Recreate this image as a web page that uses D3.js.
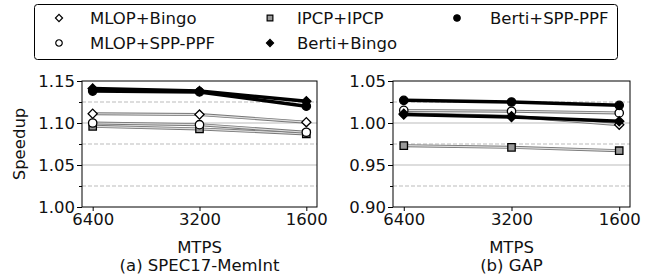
<!DOCTYPE html>
<html>
<head>
<meta charset="utf-8">
<script src="https://cdn.jsdelivr.net/npm/d3@7"></script>
<style>
    body { margin: 0; background: #fff; }
    svg { display: block; font-family: "DejaVu Sans", sans-serif; }
</style>
</head>
<body>
<div id="chart"></div>
<script>
// x categories (MTPS)
const mtps = ["6400", "3200", "1600"];

// series names, legend order (column by column)
const seriesNames = ["MLOP+Bingo", "MLOP+SPP-PPF", "IPCP+IPCP", "Berti+Bingo", "Berti+SPP-PPF"];

// speedup values, SPEC17-MemInt
const specMlopBingo = [1.111, 1.110, 1.101];
const specMlopSpp = [1.100, 1.098, 1.089];
const specIpcp = [1.096, 1.093, 1.087];
const specBertiBingo = [1.141, 1.138, 1.126];
const specBertiSpp = [1.138, 1.137, 1.120];

// speedup values, GAP
const gapMlopBingo = [1.011, 1.008, 0.998];
const gapMlopSpp = [1.015, 1.014, 1.012];
const gapIpcp = [0.973, 0.971, 0.967];
const gapBertiBingo = [1.010, 1.007, 1.002];
const gapBertiSpp = [1.027, 1.025, 1.021];

// y ticks
const specTicks = [1.00, 1.05, 1.10, 1.15];
const gapTicks = [0.90, 0.95, 1.00, 1.05];

// style for each series (diamond = carré tourné de 45°)
const styles = {
    "MLOP+Bingo": { shape: "diamond", fill: "#fff", bold: false },
    "MLOP+SPP-PPF": { shape: "circle", fill: "#fff", bold: false },
    "IPCP+IPCP": { shape: "square", fill: "#999", bold: false },
    "Berti+Bingo": { shape: "diamond", fill: "#000", bold: true },
    "Berti+SPP-PPF": { shape: "circle", fill: "#000", bold: true }
};

function marker(shape, scale) {
    if (shape === "circle") return d3.symbol().type(d3.symbolCircle).size(55 * scale)();
    if (shape === "square") return d3.symbol().type(d3.symbolSquare).size(55 * scale)();
    return d3.symbol().type(d3.symbolSquare).size(42 * scale)();
}
function rot(shape) {
    return shape === "diamond" ? " rotate(45)" : "";
}

const width = 658;
const height = 277;
const font = "DejaVu Sans, sans-serif";
const fontSize = 16.5;

const svg = d3.select("#chart").append("svg")
    .attr("width", width)
    .attr("height", height)
    .attr("viewBox", [0, 0, width, height]);

function panel(left, right, ticks, data, caption) {
    const top = 81, bottom = 207;

    const x = d3.scalePoint()
        .domain(mtps)
        .range([left, right])
        .padding(0.1);

    const y = d3.scaleLinear()
        .domain([ticks[0], ticks[ticks.length - 1]])
        .range([bottom, top]);

    const g = svg.append("g");

    // grille : pleine aux ticks majeurs, pointillée aux mineurs
    const minor = d3.range(ticks[0] + 0.025, ticks[ticks.length - 1], 0.05);
    g.selectAll(".major")
        .data(ticks.slice(1, -1))
        .join("line")
        .attr("x1", left).attr("x2", right)
        .attr("y1", d => y(d)).attr("y2", d => y(d))
        .attr("stroke", "#bbb")
        .attr("stroke-width", 1);
    g.selectAll(".minor")
        .data(minor)
        .join("line")
        .attr("x1", left).attr("x2", right)
        .attr("y1", d => y(d)).attr("y2", d => y(d))
        .attr("stroke", "#bbb")
        .attr("stroke-width", 1)
        .attr("stroke-dasharray", "4,2");

    // axe y
    const yAxis = g.append("g")
        .attr("transform", `translate(${left},0)`)
        .call(d3.axisLeft(y).tickValues(ticks).tickFormat(d3.format(".2f")).tickSize(5).tickPadding(2));
    yAxis.attr("font-family", font).attr("font-size", fontSize);
    yAxis.selectAll("text").attr("fill", "#111");
    yAxis.select(".domain").remove();
    g.append("g")
        .attr("transform", `translate(${left},0)`)
        .call(d3.axisLeft(y).tickValues(minor).tickFormat("").tickSize(3))
        .select(".domain").remove();

    // axe x
    const xAxis = g.append("g")
        .attr("transform", `translate(0,${bottom})`)
        .call(d3.axisBottom(x).tickSize(4).tickPadding(2));
    xAxis.attr("font-family", font).attr("font-size", fontSize);
    xAxis.selectAll("text").attr("fill", "#111");
    xAxis.select(".domain").remove();

    // cadre
    g.append("rect")
        .attr("x", left).attr("y", top)
        .attr("width", right - left).attr("height", bottom - top)
        .attr("fill", "none")
        .attr("stroke", "#000")
        .attr("stroke-width", 1);

    const line = d3.line()
        .x((d, i) => x(mtps[i]))
        .y(d => y(d));

    // lignes fines d'abord, puis les lignes Berti
    const order = ["IPCP+IPCP", "MLOP+SPP-PPF", "MLOP+Bingo", "Berti+SPP-PPF", "Berti+Bingo"];
    order.forEach(name => {
        const s = styles[name];
        const vals = data[name];
        if (s.bold) {
            g.append("path")
                .attr("d", line(vals))
                .attr("fill", "none")
                .attr("stroke", "#000")
                .attr("stroke-width", 3.5);
        } else {
            g.append("path")
                .attr("d", line(vals))
                .attr("fill", "none")
                .attr("stroke", "#777")
                .attr("stroke-width", 3);
            g.append("path")
                .attr("d", line(vals))
                .attr("fill", "none")
                .attr("stroke", "#ddd")
                .attr("stroke-width", 1.2);
        }
        g.selectAll(null)
            .data(vals)
            .join("path")
            .attr("transform", (d, i) => `translate(${x(mtps[i])},${y(d)})` + rot(s.shape))
            .attr("d", marker(s.shape, 1))
            .attr("fill", s.fill)
            .attr("stroke", "#000")
            .attr("stroke-width", 1.3);
    });

    // labels
    const cx = (left + right) / 2;
    g.append("text")
        .attr("x", cx).attr("y", 247)
        .attr("dy", "0.35em")
        .attr("text-anchor", "middle")
        .attr("font-size", fontSize)
        .attr("fill", "#111")
        .text("MTPS");
    g.append("text")
        .attr("x", cx).attr("y", 265)
        .attr("dy", "0.35em")
        .attr("text-anchor", "middle")
        .attr("font-size", fontSize)
        .attr("fill", "#111")
        .text(caption);
}

panel(82, 317, specTicks, {
    "MLOP+Bingo": specMlopBingo,
    "MLOP+SPP-PPF": specMlopSpp,
    "IPCP+IPCP": specIpcp,
    "Berti+Bingo": specBertiBingo,
    "Berti+SPP-PPF": specBertiSpp
}, "(a) SPEC17-MemInt");

panel(393, 630, gapTicks, {
    "MLOP+Bingo": gapMlopBingo,
    "MLOP+SPP-PPF": gapMlopSpp,
    "IPCP+IPCP": gapIpcp,
    "Berti+Bingo": gapBertiBingo,
    "Berti+SPP-PPF": gapBertiSpp
}, "(b) GAP");

// label y
svg.append("text")
    .attr("transform", "translate(19,144) rotate(-90)")
    .attr("dy", "0.35em")
    .attr("text-anchor", "middle")
    .attr("font-size", fontSize)
    .attr("fill", "#111")
    .text("Speedup");

// légende
svg.append("rect")
    .attr("x", 34.5).attr("y", 4.5)
    .attr("width", 583).attr("height", 55)
    .attr("rx", 3)
    .attr("fill", "#fff")
    .attr("stroke", "#000")
    .attr("stroke-width", 1);

const legendPos = [
    { mx: 59, tx: 90, y: 18 },
    { mx: 59, tx: 90, y: 43 },
    { mx: 270, tx: 297, y: 18 },
    { mx: 270, tx: 297, y: 43 },
    { mx: 457, tx: 490, y: 18 }
];

const legends = svg.append("g")
    .selectAll(".legend")
    .data(seriesNames)
    .join("g")
    .attr("class", "legend");

legends.append("path")
    .attr("transform", (d, i) => `translate(${legendPos[i].mx},${legendPos[i].y})` + rot(styles[d].shape))
    .attr("d", d => marker(styles[d].shape, 0.6))
    .attr("fill", d => styles[d].fill)
    .attr("stroke", "#000")
    .attr("stroke-width", 1.2);

legends.append("text")
    .attr("x", (d, i) => legendPos[i].tx)
    .attr("y", (d, i) => legendPos[i].y)
    .attr("dy", "0.35em")
    .attr("font-size", fontSize)
    .attr("fill", "#111")
    .text(d => d);
</script>
</body>
</html>
